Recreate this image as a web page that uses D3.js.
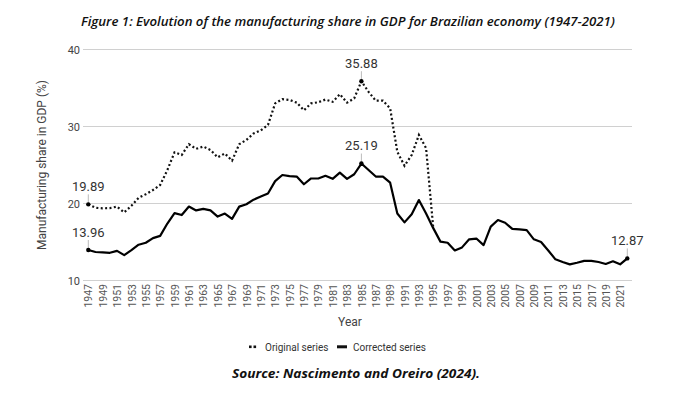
<!DOCTYPE html>
<html>
<head>
<meta charset="utf-8">
<script src="https://cdn.jsdelivr.net/npm/d3@7"></script>
<style>
  html, body { margin: 0; padding: 0; background: #fff; }
  svg { display: block; }
</style>
</head>
<body>
<svg id="chart" width="677" height="399"></svg>
<script>
const years = [1947,1948,1949,1950,1951,1952,1953,1954,1955,1956,1957,1958,1959,1960,1961,1962,1963,1964,1965,1966,1967,1968,1969,1970,1971,1972,1973,1974,1975,1976,1977,1978,1979,1980,1981,1982,1983,1984,1985,1986,1987,1988,1989,1990,1991,1992,1993,1994,1995,1996,1997,1998,1999,2000,2001,2002,2003,2004,2005,2006,2007,2008,2009,2010,2011,2012,2013,2014,2015,2016,2017,2018,2019,2020,2021,2022];

const correctedSeries = [13.96,13.7,13.65,13.6,13.85,13.3,13.95,14.65,14.9,15.5,15.8,17.4,18.75,18.5,19.6,19.1,19.3,19.1,18.3,18.7,18.0,19.6,19.9,20.5,20.9,21.3,22.9,23.7,23.55,23.5,22.5,23.25,23.25,23.6,23.2,24.0,23.2,23.8,25.19,24.35,23.5,23.5,22.7,18.7,17.55,18.6,20.45,18.7,16.8,15.05,14.9,13.9,14.3,15.35,15.45,14.6,17.0,17.85,17.5,16.7,16.65,16.55,15.35,15.0,13.9,12.75,12.4,12.1,12.3,12.55,12.55,12.4,12.15,12.5,12.1,12.87];

const originalYears = years.slice(0, 49); // 1947-1995
const originalSeries = [19.89,19.45,19.37,19.4,19.6,18.85,19.7,20.75,21.2,21.75,22.4,24.35,26.65,26.3,27.7,27.1,27.4,26.95,26.0,26.5,25.56,27.7,28.25,29.1,29.5,30.2,33.0,33.55,33.45,33.1,32.1,33.0,33.15,33.5,33.2,34.2,33.1,33.65,35.88,34.5,33.35,33.35,32.35,26.7,24.9,26.3,28.9,27.2,16.8];

const xTickLabels = ["1947","1949","1951","1953","1955","1957","1959","1961","1963","1965","1967","1969","1971","1973","1975","1977","1979","1981","1983","1985","1987","1989","1991","1993","1995","1997","1999","2001","2003","2005","2007","2009","2011","2013","2015","2017","2019","2021"];
const yTicks = [10, 20, 30, 40];

const annotationYears = [1947, 1947, 1985, 1985, 2022];
const annotationSeries = ["original", "corrected", "original", "corrected", "corrected"];
const annotationLabels = ["19.89", "13.96", "35.88", "25.19", "12.87"];

const titleText = "Figure 1: Evolution of the manufacturing share in GDP for Brazilian economy (1947-2021)";
const sourceText = "Source: Nascimento and Oreiro (2024).";
const yTitle = "Manufacturing share in GDP (%)";
const xTitle = "Year";
const legendLabels = ["Original series", "Corrected series"];

const svg = d3.select("#chart");
svg.append("rect").attr("width", 677).attr("height", 399).attr("fill", "#fff");

const x = d3.scalePoint().domain(years).range([88.3, 627.3]);
const y = d3.scaleLinear().domain([10, 40]).range([280.5, 49.5]);

// title
svg.append("text")
  .attr("x", 81).attr("y", 26)
  .attr("font-family", "'Open Sans', Lato, sans-serif")
  .attr("font-style", "italic").attr("font-weight", 600)
  .attr("font-size", 12).attr("fill", "#111")
  .attr("textLength", 534).attr("lengthAdjust", "spacingAndGlyphs")
  .text(titleText);

// grid
const grid = svg.append("g");
grid.selectAll("line").data(yTicks).join("line")
  .attr("x1", 83).attr("x2", 632)
  .attr("y1", d => y(d)).attr("y2", d => y(d))
  .attr("stroke", "#d0d0d0").attr("stroke-width", 1);

// y axis labels
const yAxis = d3.axisLeft(y).tickValues(yTicks).tickSize(0).tickPadding(0).tickFormat(d3.format("d"));
const gy = svg.append("g").attr("transform", "translate(80,0)").call(yAxis);
gy.select(".domain").remove();
gy.selectAll("text").attr("font-family", "Roboto, sans-serif").attr("font-size", 11).attr("fill", "#444");

// x axis labels
const xAxis = d3.axisBottom(x).tickValues(xTickLabels.map(Number)).tickSize(0).tickPadding(0);
const gx = svg.append("g").attr("transform", "translate(0,284)").call(xAxis);
gx.select(".domain").remove();
gx.selectAll("text")
  .attr("font-family", "Roboto, sans-serif").attr("font-size", 10.5).attr("fill", "#555")
  .attr("transform", "rotate(-90)")
  .attr("text-anchor", "end")
  .attr("x", 0).attr("y", 0).attr("dx", 0).attr("dy", "0.35em");

// axis titles
svg.append("text")
  .attr("transform", "translate(46,165) rotate(-90)")
  .attr("text-anchor", "middle")
  .attr("font-family", "Roboto, sans-serif").attr("font-size", 12).attr("fill", "#444")
  .text(yTitle);
svg.append("text")
  .attr("x", 350).attr("y", 326)
  .attr("text-anchor", "middle")
  .attr("font-family", "Roboto, sans-serif").attr("font-size", 12).attr("fill", "#444")
  .text(xTitle);

// lines
const line = d3.line().x(d => x(d[0])).y(d => y(d[1]));
const corrData = years.map((yr, i) => [yr, correctedSeries[i]]);
const origData = originalYears.map((yr, i) => [yr, originalSeries[i]]);

svg.append("path").datum(corrData)
  .attr("d", line).attr("fill", "none")
  .attr("stroke", "#000").attr("stroke-width", 2.2)
  .attr("stroke-linejoin", "round").attr("stroke-linecap", "round");
svg.append("path").datum(origData)
  .attr("d", line).attr("fill", "none")
  .attr("stroke", "#111").attr("stroke-width", 2.2)
  .attr("stroke-dasharray", "2,2.4");

// annotations
const ann = svg.append("g");
annotationYears.forEach((yr, i) => {
  const arr = annotationSeries[i] === "original" ? originalSeries : correctedSeries;
  const yrs = annotationSeries[i] === "original" ? originalYears : years;
  const v = arr[yrs.indexOf(yr)];
  const px = x(yr), py = y(v);
  ann.append("line").attr("x1", px).attr("x2", px).attr("y1", py - 1).attr("y2", py - 10)
    .attr("stroke", "#bbb").attr("stroke-width", 1);
  ann.append("circle").attr("cx", px).attr("cy", py).attr("r", 2.2).attr("fill", "#000");
  ann.append("text").attr("x", px).attr("y", py - 13.5)
    .attr("text-anchor", "middle")
    .attr("font-family", "Roboto, sans-serif").attr("font-size", 13).attr("fill", "#333")
    .text(annotationLabels[i]);
});

// legend
const lg = svg.append("g");
lg.append("rect").attr("x", 249).attr("y", 345.5).attr("width", 2.6).attr("height", 2.6).attr("fill", "#111");
lg.append("rect").attr("x", 253.5).attr("y", 345.5).attr("width", 2.6).attr("height", 2.6).attr("fill", "#111");
lg.append("text").attr("x", 265).attr("y", 350.5)
  .attr("font-family", "Roboto, sans-serif").attr("font-size", 10).attr("fill", "#333")
  .text(legendLabels[0]);
lg.append("rect").attr("x", 337).attr("y", 345.3).attr("width", 10).attr("height", 3).attr("fill", "#111");
lg.append("text").attr("x", 353).attr("y", 350.5)
  .attr("font-family", "Roboto, sans-serif").attr("font-size", 10).attr("fill", "#333")
  .text(legendLabels[1]);

// source
svg.append("text")
  .attr("x", 232).attr("y", 377.5)
  .attr("font-family", "'Open Sans', Lato, sans-serif")
  .attr("font-style", "italic").attr("font-weight", 700)
  .attr("font-size", 12.5).attr("fill", "#111")
  .attr("textLength", 248).attr("lengthAdjust", "spacingAndGlyphs")
  .text(sourceText);
</script>
</body>
</html>
